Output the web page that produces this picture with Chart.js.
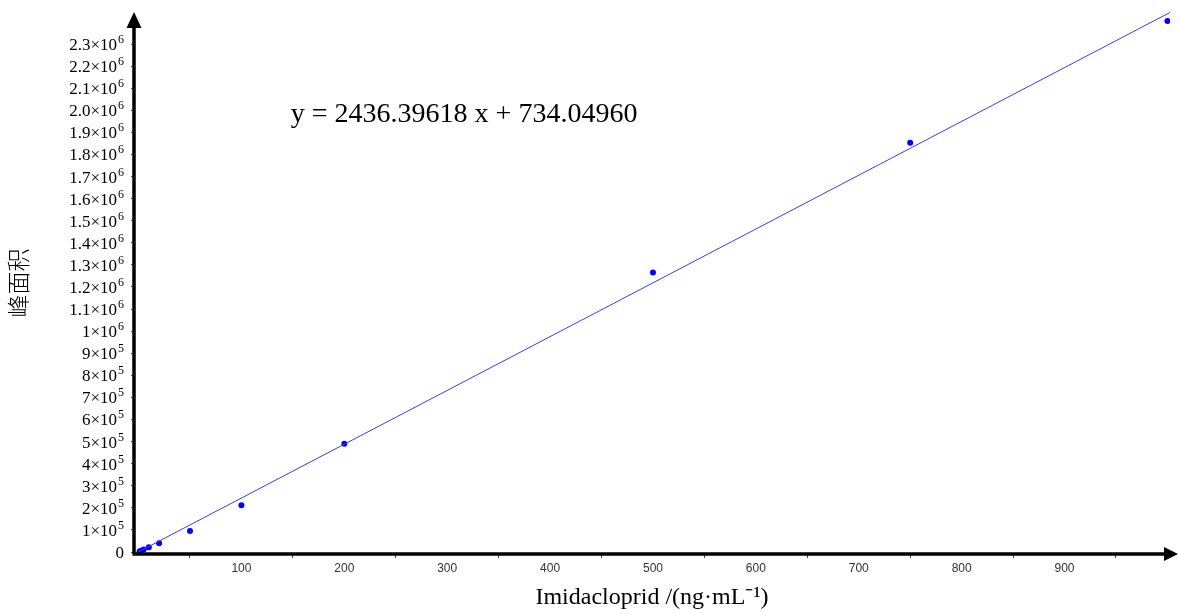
<!DOCTYPE html>
<html>
<head>
<meta charset="utf-8">
<script src="https://cdn.jsdelivr.net/npm/chart.js@4"></script>
<style>
  html, body { margin: 0; padding: 0; background: #fff; }
  #wrap { width: 1178px; height: 613px; }
</style>
</head>
<body>
<div id="wrap"><canvas id="calChart"></canvas></div>
<script>
// 标准曲线数据 (浓度 ng/mL, 峰面积)
const concentrations = [1, 2, 5, 10, 20, 50, 100, 200, 500, 750, 1000];
const peakAreas = [2500, 5000, 11000, 21000, 40000, 95000, 212000, 490000, 1266000, 1853000, 2404000];

// 回归线两端
const fitLineX = [0, 1002.5];
const fitLineY = [734, 2443000];

// 刻度 (^ 后面是上标)
const yTickValues = [0, 100000, 200000, 300000, 400000, 500000, 600000, 700000, 800000, 900000,
  1000000, 1100000, 1200000, 1300000, 1400000, 1500000, 1600000, 1700000, 1800000, 1900000,
  2000000, 2100000, 2200000, 2300000];
const yTickLabels = ['0', '1×10^5', '2×10^5', '3×10^5', '4×10^5', '5×10^5', '6×10^5', '7×10^5', '8×10^5', '9×10^5',
  '1×10^6', '1.1×10^6', '1.2×10^6', '1.3×10^6', '1.4×10^6', '1.5×10^6', '1.6×10^6', '1.7×10^6', '1.8×10^6', '1.9×10^6',
  '2.0×10^6', '2.1×10^6', '2.2×10^6', '2.3×10^6'];
const xTickValues = [50, 100, 150, 200, 250, 300, 350, 400, 450, 500, 550, 600, 650, 700, 750, 800, 850, 900, 950];
const xTickLabels = ['', '100', '', '200', '', '300', '', '400', '', '500', '', '600', '', '700', '', '800', '', '900', ''];

const equationText = 'y = 2436.39618 x + 734.04960';
const equationPos = [148, 1980000];

const SERIF = '"Liberation Serif", "Times New Roman", serif';

// 坐标轴箭头 + y 轴上标刻度 + 方程文字
const axisArrows = {
  id: 'axisArrows',
  afterDraw(chart) {
    const { ctx, chartArea: { left, right, top, bottom } } = chart;
    const xs = chart.scales.x, ys = chart.scales.y;
    ctx.save();
    ctx.strokeStyle = '#000';
    ctx.fillStyle = '#000';
    ctx.lineWidth = 3.5;
    ctx.beginPath();
    ctx.moveTo(left, bottom);
    ctx.lineTo(left, top + 10);
    ctx.moveTo(left - 1.5, bottom);
    ctx.lineTo(right, bottom);
    ctx.stroke();
    // 上箭头
    ctx.beginPath();
    ctx.moveTo(left, top);
    ctx.lineTo(left - 7.5, top + 16);
    ctx.lineTo(left + 7.5, top + 16);
    ctx.closePath();
    ctx.fill();
    // 右箭头
    ctx.beginPath();
    ctx.moveTo(right + 8, bottom);
    ctx.lineTo(right - 6, bottom - 7);
    ctx.lineTo(right - 6, bottom + 7);
    ctx.closePath();
    ctx.fill();

    // y 轴刻度文字 (带上标)
    ctx.textBaseline = 'alphabetic';
    ctx.textAlign = 'left';
    const xRight = left - 10;
    ys.ticks.forEach(t => {
      const label = yTickLabels[yTickValues.indexOf(t.value)];
      if (label === undefined) return;
      const parts = label.split('^');
      const py = ys.getPixelForValue(t.value) + 6;
      ctx.font = '17px ' + SERIF;
      const wBase = ctx.measureText(parts[0]).width;
      let wSup = 0;
      if (parts[1]) {
        ctx.font = '12px ' + SERIF;
        wSup = ctx.measureText(parts[1]).width + 1;
      }
      const x0 = xRight - wBase - wSup;
      ctx.font = '17px ' + SERIF;
      ctx.fillText(parts[0], x0, py);
      if (parts[1]) {
        ctx.font = '12px ' + SERIF;
        ctx.fillText(parts[1], x0 + wBase + 1, py - 7);
      }
    });

    ctx.font = '28px ' + SERIF;
    ctx.textBaseline = 'middle';
    ctx.textAlign = 'left';
    ctx.fillText(equationText, xs.getPixelForValue(equationPos[0]), ys.getPixelForValue(equationPos[1]));
    ctx.restore();
  }
};

const ctx = document.getElementById('calChart').getContext('2d');
new Chart(ctx, {
  type: 'scatter',
  data: {
    datasets: [
      {
        label: '拟合线',
        type: 'line',
        data: fitLineX.map((x, i) => ({ x: x, y: fitLineY[i] })),
        borderColor: '#3a3aff',
        borderWidth: 1,
        pointRadius: 0,
        fill: false
      },
      {
        label: '峰面积',
        data: concentrations.map((x, i) => ({ x: x, y: peakAreas[i] })),
        backgroundColor: '#0000ff',
        borderColor: '#0000ff',
        pointRadius: 3,
        pointBorderWidth: 0
      }
    ]
  },
  plugins: [axisArrows],
  options: {
    responsive: true,
    maintainAspectRatio: false,
    animation: false,
    layout: { padding: { top: 12, right: 8, left: 0, bottom: 0 } },
    plugins: {
      legend: { display: false },
      tooltip: { enabled: false }
    },
    scales: {
      x: {
        type: 'linear',
        min: -4.4,
        max: 1002.5,
        afterFit: s => { s.height = 59; },
        afterBuildTicks: s => { s.ticks = xTickValues.map(v => ({ value: v })); },
        border: { display: false },
        grid: {
          drawOnChartArea: false,
          drawTicks: true,
          tickLength: 4,
          color: c => (c.tick && c.tick.value % 100 === 0) ? 'rgba(0,0,0,0)' : '#444'
        },
        ticks: {
          autoSkip: false,
          maxRotation: 0,
          padding: 3,
          color: '#333',
          font: { family: '"Liberation Sans", Arial, sans-serif', size: 12 },
          callback: v => xTickLabels[xTickValues.indexOf(v)]
        },
        title: {
          display: true,
          text: 'Imidacloprid /(ng·mL⁻¹)',
          color: '#000',
          font: { family: SERIF, size: 24 },
          padding: { top: 0, bottom: 1 }
        }
      },
      y: {
        min: -9000,
        max: 2445000,
        afterFit: s => { s.width = 134; },
        afterBuildTicks: s => { s.ticks = yTickValues.map(v => ({ value: v })); },
        border: { display: false },
        grid: {
          drawOnChartArea: false,
          drawTicks: true,
          tickLength: 3,
          color: '#555'
        },
        ticks: {
          autoSkip: false,
          padding: 7,
          color: 'rgba(0,0,0,0)',
          font: { family: SERIF, size: 2 },
          callback: v => yTickLabels[yTickValues.indexOf(v)]
        },
        title: {
          display: true,
          text: '峰面积',
          color: '#000',
          font: { family: '"Noto Sans CJK SC", sans-serif', size: 23, weight: 300 },
          padding: { top: 4, bottom: 0 }
        }
      }
    }
  }
});
</script>
</body>
</html>
